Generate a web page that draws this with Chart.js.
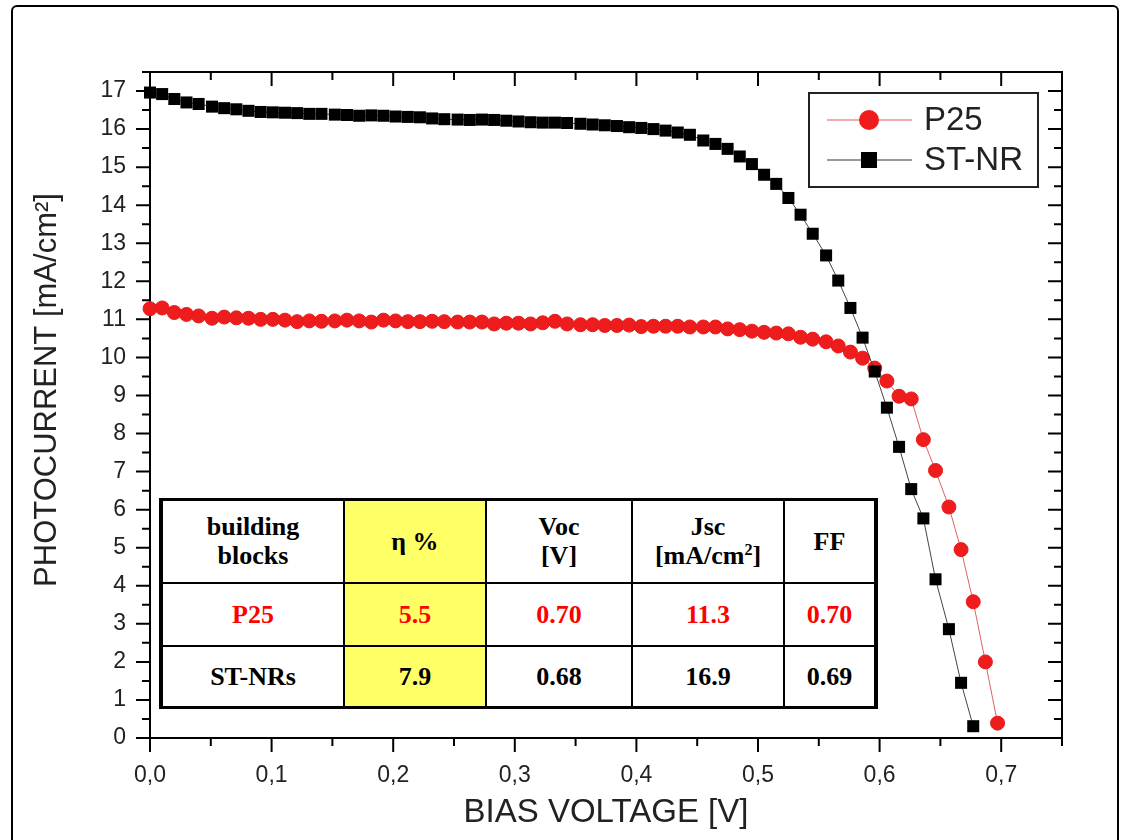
<!DOCTYPE html>
<html>
<head>
<meta charset="utf-8">
<title>Photocurrent vs bias voltage</title>
<script src="https://cdn.jsdelivr.net/npm/chart.js@4.4.1/dist/chart.umd.min.js"></script>
<style>
  body { margin: 0; background: #fff; }
  #wrap { position: relative; width: 1125px; height: 840px; overflow: hidden; }
  #frame { position: absolute; left: 11px; top: 5px; width: 1104px; height: 850px;
           border: 2px solid #000; border-radius: 6px; pointer-events: none; }
  #stats { position: absolute; left: 159px; top: 498px; border-collapse: collapse;
           table-layout: fixed; background: #fff; text-align: center;
           font-family: "Liberation Serif", "Times New Roman", serif; font-weight: bold; font-size: 26px;
           border-left: 4px solid #000; border-right: 4px solid #000;
           border-top: 3px solid #000; border-bottom: 3px solid #000; }
  #stats td { border: 2px solid #000; padding: 0; line-height: 29px; color: #000; }
  #stats td.eta { background: #ffff66; }
  #stats tr.red td { color: #ff0000; }
  #stats sup { font-size: 0.62em; line-height: 0; vertical-align: 0.55em; }
</style>
</head>
<body>
<div id="wrap">
  <canvas id="ivChart" width="1125" height="840"></canvas>
  <div id="frame"></div>
  <table id="stats"></table>
</div>
<script>
// bias voltage of each measured point [V]
const voltage = [
  0.000, 0.010, 0.020, 0.030, 0.040, 0.051, 0.061, 0.071, 0.081, 0.091,
  0.101, 0.111, 0.121, 0.131, 0.141, 0.152, 0.162, 0.172, 0.182, 0.192,
  0.202, 0.212, 0.222, 0.232, 0.242, 0.253, 0.263, 0.273, 0.283, 0.293,
  0.303, 0.313, 0.323, 0.333, 0.343, 0.354, 0.364, 0.374, 0.384, 0.394,
  0.404, 0.414, 0.424, 0.434, 0.444, 0.455, 0.465, 0.475, 0.485, 0.495,
  0.505, 0.515, 0.525, 0.535, 0.545, 0.556, 0.566, 0.576, 0.586, 0.596,
  0.606, 0.616, 0.626, 0.636, 0.646, 0.657, 0.667, 0.677, 0.687, 0.697
];

// photocurrent [mA/cm2]
const p25 = [
  11.28, 11.30, 11.18, 11.13, 11.09, 11.03, 11.06, 11.04, 11.03, 11.00,
  11.00, 10.98, 10.94, 10.96, 10.95, 10.96, 10.98, 10.96, 10.93, 10.98,
  10.96, 10.94, 10.94, 10.95, 10.94, 10.93, 10.93, 10.93, 10.88, 10.90,
  10.90, 10.88, 10.91, 10.95, 10.88, 10.86, 10.86, 10.84, 10.84, 10.85,
  10.81, 10.82, 10.82, 10.82, 10.80, 10.80, 10.80, 10.75, 10.73, 10.69,
  10.66, 10.64, 10.62, 10.53, 10.48, 10.41, 10.30, 10.14, 9.98, 9.72,
  9.38, 8.98, 8.91, 7.84, 7.03, 6.07, 4.95, 3.58, 2.00, 0.39
];

const stnr = [
  16.96, 16.92, 16.79, 16.70, 16.66, 16.59, 16.55, 16.52, 16.48, 16.45,
  16.44, 16.43, 16.42, 16.40, 16.40, 16.38, 16.37, 16.35, 16.36, 16.35,
  16.33, 16.32, 16.31, 16.28, 16.26, 16.25, 16.24, 16.25, 16.24, 16.22,
  16.20, 16.18, 16.17, 16.17, 16.16, 16.14, 16.12, 16.10, 16.08, 16.05,
  16.03, 16.00, 15.96, 15.91, 15.85, 15.70, 15.61, 15.48, 15.28, 15.08,
  14.80, 14.56, 14.19, 13.75, 13.25, 12.68, 12.02, 11.30, 10.52, 9.63,
  8.68, 7.65, 6.54, 5.77, 4.17, 2.86, 1.45, 0.31
];

const xTickLabels = ["0,0", "0,1", "0,2", "0,3", "0,4", "0,5", "0,6", "0,7"];

// inset table
const tableHead = ["building<br>blocks", "η %", "Voc<br>[V]", "Jsc<br>[mA/cm<sup>2</sup>]", "FF"];
const tableP25 = ["P25", "5.5", "0.70", "11.3", "0.70"];
const tableSTNR = ["ST-NRs", "7.9", "0.68", "16.9", "0.69"];

function toPoints(values) {
  return values.map((v, i) => ({ x: voltage[i], y: v }));
}

// build the table
const stats = document.getElementById("stats");
const colWidths = [183, 142, 146, 152, 92];
const rowHeights = [83, 63, 62];
let html = "<colgroup>" + colWidths.map(w => '<col style="width:' + w + 'px">').join("") + "</colgroup>";
[[tableHead, ""], [tableP25, "red"], [tableSTNR, ""]].forEach(([row, cls], r) => {
  html += '<tr class="' + cls + '" style="height:' + rowHeights[r] + 'px">';
  row.forEach((cell, c) => {
    html += '<td' + (c === 1 ? ' class="eta"' : '') + '>' + cell + '</td>';
  });
  html += "</tr>";
});
stats.innerHTML = html;

// box around plot + major/minor ticks (outer on bottom/left, inner on top/right)
const frameTicks = {
  id: "frameTicks",
  beforeDatasetsDraw(chart) {
    const { ctx, chartArea: a, scales: { x, y } } = chart;
    ctx.save();
    ctx.strokeStyle = "#000";
    ctx.lineWidth = 2;
    ctx.strokeRect(a.left, a.top, a.right - a.left, a.bottom - a.top);
    ctx.beginPath();
    for (let k = 0; k <= 15; k++) {
      const px = x.getPixelForValue(k * 0.05);
      const len = k % 2 === 0 ? 14 : 8;
      ctx.moveTo(px, a.bottom); ctx.lineTo(px, a.bottom + len);
      ctx.moveTo(px, a.top); ctx.lineTo(px, a.top + len);
    }
    for (let k = 0; k <= 35; k++) {
      const py = y.getPixelForValue(k * 0.5);
      const len = k % 2 === 0 ? 14 : 8;
      ctx.moveTo(a.left, py); ctx.lineTo(a.left - len, py);
      ctx.moveTo(a.right, py); ctx.lineTo(a.right - len, py);
    }
    ctx.stroke();

    // y title, a bit above the middle of the axis like the original
    ctx.translate(47, (a.top + a.bottom) / 2 - 15);
    ctx.rotate(-Math.PI / 2);
    ctx.fillStyle = "#222";
    ctx.font = '31px "Liberation Sans", Arial, sans-serif';
    ctx.textAlign = "center";
    ctx.textBaseline = "middle";
    ctx.fillText("PHOTOCURRENT [mA/cm²]", 0, 0);
    ctx.restore();
  }
};

// legend box in the upper right corner
const insetLegend = {
  id: "insetLegend",
  afterDraw(chart) {
    const { ctx, chartArea: a } = chart;
    const left = a.right - 253, top = a.top + 21, w = 229, h = 94;
    ctx.save();
    ctx.fillStyle = "#fff";
    ctx.fillRect(left, top, w, h);
    ctx.strokeStyle = "#222";
    ctx.lineWidth = 2;
    ctx.strokeRect(left, top, w, h);

    const rowY = [top + 27, top + 67];
    const lineFrom = left + 18, lineTo = left + 103, mark = left + 60;

    ctx.lineWidth = 1;
    ctx.strokeStyle = "#e05a5a";
    ctx.beginPath(); ctx.moveTo(lineFrom, rowY[0]); ctx.lineTo(lineTo, rowY[0]); ctx.stroke();
    ctx.fillStyle = "#ee1c1c";
    ctx.beginPath(); ctx.arc(mark, rowY[0], 10, 0, Math.PI * 2); ctx.fill();

    ctx.strokeStyle = "#333";
    ctx.beginPath(); ctx.moveTo(lineFrom, rowY[1]); ctx.lineTo(lineTo, rowY[1]); ctx.stroke();
    ctx.fillStyle = "#000";
    ctx.fillRect(mark - 8, rowY[1] - 8, 16, 16);

    ctx.fillStyle = "#222";
    ctx.font = '33px "Liberation Sans", Arial, sans-serif';
    ctx.textBaseline = "middle";
    ctx.fillText("P25", left + 115, rowY[0] + 1);
    ctx.fillText("ST-NR", left + 115, rowY[1] + 1);
    ctx.restore();
  }
};

Chart.defaults.font.family = '"Liberation Sans", Arial, sans-serif';
Chart.defaults.color = "#222";

new Chart(document.getElementById("ivChart"), {
  type: "line",
  data: {
    datasets: [
      {
        label: "ST-NR",
        data: toPoints(stnr),
        order: 0,
        borderColor: "#444",
        borderWidth: 1,
        pointStyle: "rect",
        pointRadius: 8.5,
        pointBackgroundColor: "#000",
        pointBorderWidth: 0,
        tension: 0,
        clip: false,
      },
      {
        label: "P25",
        data: toPoints(p25),
        order: 1,
        borderColor: "#e06060",
        borderWidth: 1,
        pointStyle: "circle",
        pointRadius: 7,
        pointBackgroundColor: "#ee1c1c",
        pointBorderColor: "#e81a1a",
        pointBorderWidth: 1,
        tension: 0,
        clip: false,
      },
    ],
  },
  options: {
    responsive: false,
    animation: false,
    layout: { padding: { top: 72, right: 63, left: 0, bottom: 0 } },
    plugins: {
      legend: { display: false },
      tooltip: { enabled: false },
    },
    scales: {
      x: {
        type: "linear",
        min: 0,
        max: 0.75,
        afterFit: (scale) => { scale.height = 102; },
        grid: { display: false, drawTicks: false },
        border: { color: "#000", width: 2 },
        ticks: {
          stepSize: 0.1,
          includeBounds: false,
          padding: 24,
          font: { size: 23 },
          color: "#222",
          callback: (v, i) => xTickLabels[i],
        },
        title: {
          display: true,
          text: "BIAS VOLTAGE [V]",
          font: { size: 33 },
          color: "#222",
          padding: { top: 0, bottom: 7 },
        },
      },
      y: {
        min: 0,
        max: 17.5,
        afterFit: (scale) => { scale.width = 150; },
        grid: { display: false, drawTicks: false },
        border: { color: "#000", width: 2 },
        ticks: {
          stepSize: 1,
          includeBounds: false,
          padding: 24,
          font: { size: 23 },
          color: "#222",
        },
        title: { display: false },
      },
    },
  },
  plugins: [frameTicks, insetLegend],
});
</script>
</body>
</html>
